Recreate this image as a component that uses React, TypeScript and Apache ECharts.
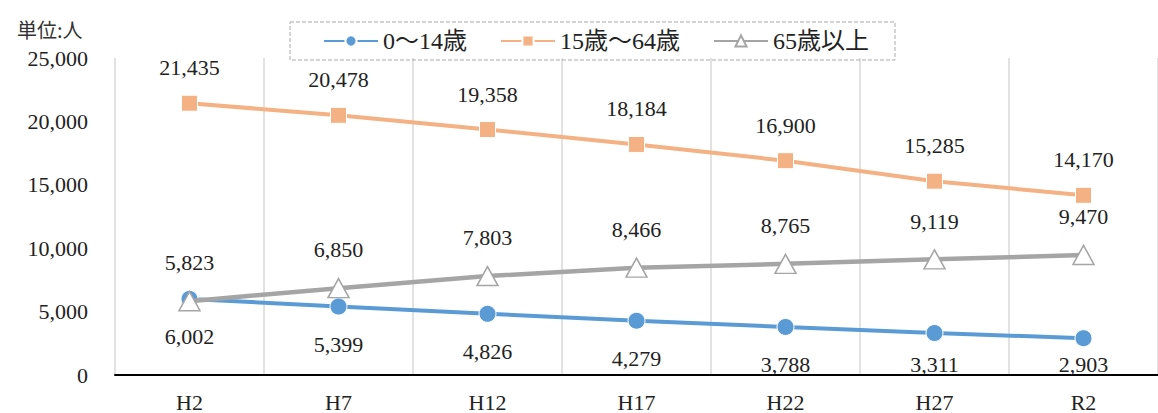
import React, { useEffect, useRef } from "react";
import * as echarts from "echarts";

const categories = ["H2", "H7", "H12", "H17", "H22", "H27", "R2"];
const age0to14 = [6002, 5399, 4826, 4279, 3788, 3311, 2903];
const age15to64 = [21435, 20478, 19358, 18184, 16900, 15285, 14170];
const age65plus = [5823, 6850, 7803, 8466, 8765, 9119, 9470];
const seriesNames = ["0～14歳", "15歳～64歳", "65歳以上"];

const NUM_FONT = "Liberation Serif";
const MIX_FONT = "Liberation Serif, Noto Sans CJK JP, serif";
const GRID_TOP = 58;
const GRID_BOTTOM = 38;
const HEIGHT = 413;

export default function App() {
  const ref = useRef<HTMLDivElement>(null);
  useEffect(() => {
    if (!ref.current) return;
    const chart = echarts.init(ref.current, undefined, { renderer: "svg" });
    const fmt = (p: any) => Number(p.value).toLocaleString("en-US");
    const labelBase = {
      show: true,
      formatter: fmt,
      fontSize: 22,
      color: "#222",
      fontFamily: NUM_FONT,
    };
    const axisY = HEIGHT - GRID_BOTTOM;
    const blueDist = 18;
    const blueSym = 17;
    const option: any = {
      animation: false,
      textStyle: { fontFamily: MIX_FONT },
      title: {
        text: "単位:人",
        left: 12,
        top: 14,
        textStyle: {
          fontSize: 20,
          fontWeight: "normal",
          color: "#333",
          fontFamily: "Noto Sans CJK JP",
        },
      },
      legend: {
        left: 290,
        top: 22,
        padding: [7, 26, 7, 33],
        itemGap: 33,
        itemWidth: 54,
        itemHeight: 14,
        borderColor: "#aaa",
        borderWidth: 1,
        borderType: "dashed",
        textStyle: { fontSize: 24, color: "#222", fontFamily: MIX_FONT },
        data: seriesNames,
      },
      grid: { left: 115, right: -3, top: GRID_TOP, bottom: GRID_BOTTOM },
      xAxis: {
        type: "category",
        data: categories,
        boundaryGap: true,
        axisLine: { show: true, lineStyle: { color: "#000", width: 2 } },
        axisTick: { show: false },
        axisLabel: { fontSize: 22, color: "#222", margin: 16, fontFamily: NUM_FONT },
        splitLine: { show: true, lineStyle: { color: "#d9d9d9", width: 1.5 } },
        z: 3,
      },
      yAxis: {
        type: "value",
        min: 0,
        max: 25000,
        interval: 5000,
        axisLine: { show: false },
        axisTick: { show: false },
        splitLine: { show: false },
        axisLabel: {
          fontSize: 22,
          color: "#222",
          margin: 27,
          fontFamily: NUM_FONT,
          formatter: (v: number) => v.toLocaleString("en-US"),
        },
      },
      series: [
        {
          name: seriesNames[0],
          type: "line",
          data: age0to14,
          symbol: "circle",
          symbolSize: blueSym,
          lineStyle: { color: "#5B9BD5", width: 4 },
          itemStyle: { color: "#5B9BD5", borderColor: "#fff", borderWidth: 1 },
          label: { show: false },
          z: 4,
        },
        {
          name: seriesNames[1],
          type: "line",
          data: age15to64,
          symbol: "rect",
          symbolSize: 16,
          lineStyle: { color: "#F4B183", width: 4 },
          itemStyle: { color: "#F4B183", borderColor: "#fff", borderWidth: 1 },
          label: { ...labelBase, position: "top", distance: 16 },
          z: 4,
        },
        {
          name: seriesNames[2],
          type: "line",
          data: age65plus,
          symbol: "triangle",
          symbolSize: [21, 19],
          lineStyle: { color: "#A5A5A5", width: 4.5 },
          itemStyle: { color: "#fff", borderColor: "#A5A5A5", borderWidth: 1.5 },
          label: { ...labelBase, position: "top", distance: 17 },
          z: 5,
        },
      ],
    };
    chart.setOption(option);
    // blue labels below the points, kept inside the plot area as in the original
    const maxCy = axisY - 11;
    const texts = age0to14.map((v, i) => {
      const p = chart.convertToPixel({ gridIndex: 0 }, [i, v]) as number[];
      const natural = p[1] + blueSym / 2 + blueDist + 11;
      const cy = natural > maxCy + 3 ? maxCy : natural;
      return {
        type: "text",
        x: p[0],
        y: cy,
        z: 10,
        style: {
          text: v.toLocaleString("en-US"),
          fontSize: 22,
          fontFamily: NUM_FONT,
          fill: "#222",
          align: "center",
          verticalAlign: "middle",
        },
      };
    });
    chart.setOption({ graphic: texts });
    return () => chart.dispose();
  }, []);
  return (
    <div
      ref={ref}
      style={{ position: "fixed", left: 0, top: 0, width: 1158, height: 413, background: "#fff" }}
    />
  );
}
